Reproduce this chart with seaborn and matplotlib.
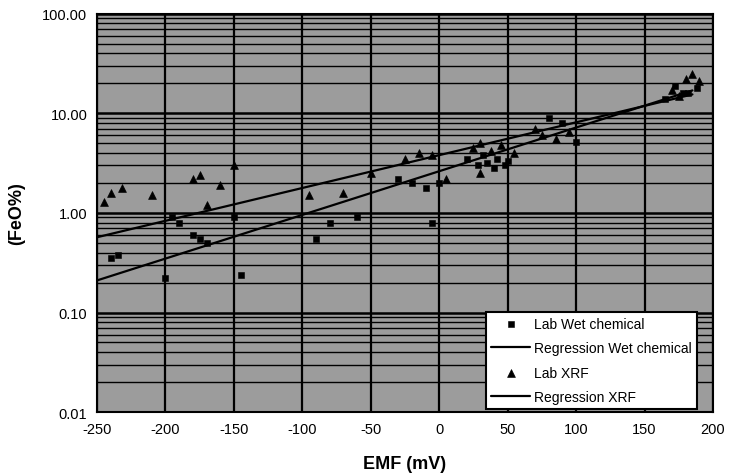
import numpy as np
import pandas as pd
import matplotlib
matplotlib.use("Agg")
import matplotlib.pyplot as plt
from matplotlib.ticker import FixedLocator, LogLocator, NullFormatter
import seaborn as sns

# ---- data ----
wet_emf = [-240, -235, -200, -195, -190, -180, -175, -170, -150, -145,
           -90, -80, -60, -30, -20, -10, -5, 0,
           20, 28, 32, 35, 40, 42, 48, 50,
           80, 90, 100, 165, 172, 178, 182, 188]
wet_feo = [0.35, 0.38, 0.22, 0.90, 0.80, 0.60, 0.55, 0.50, 0.90, 0.24,
           0.55, 0.80, 0.90, 2.2, 2.0, 1.8, 0.80, 2.0,
           3.5, 3.0, 3.8, 3.2, 2.8, 3.5, 3.0, 3.3,
           9.0, 8.0, 5.2, 14.0, 19.0, 16.0, 16.0, 18.0]

xrf_emf = [-245, -240, -232, -210, -180, -175, -170, -160, -150,
           -95, -70, -50, -25, -15, -5, 5,
           25, 30, 38, 45, 55, 30,
           70, 75, 85, 95, 170, 175, 180, 185, 190]
xrf_feo = [1.3, 1.6, 1.8, 1.5, 2.2, 2.4, 1.2, 1.9, 3.0,
           1.5, 1.6, 2.5, 3.5, 4.0, 3.8, 2.2,
           4.5, 5.0, 4.2, 4.8, 4.0, 2.5,
           7.0, 6.0, 5.5, 6.5, 17.0, 15.0, 22.0, 25.0, 21.0]

reg_emf = [-250, 185]
reg_wet = [0.57, 15.5]
reg_xrf = [0.21, 17.0]

x_ticks = [-250, -200, -150, -100, -50, 0, 50, 100, 150, 200]
y_ticks = [0.01, 0.1, 1, 10, 100]
y_tick_labels = ["0.01", "0.10", "1.00", "10.00", "100.00"]

# ---- style ----
sns.set_style("white")
plt.rcParams["font.family"] = ["Liberation Sans", "DejaVu Sans"]
plt.rcParams["text.color"] = "black"
plt.rcParams["axes.labelcolor"] = "black"
plt.rcParams["xtick.color"] = "black"
plt.rcParams["ytick.color"] = "black"

fig = plt.figure(figsize=(7.35, 4.77), dpi=100)
ax = fig.add_axes([0.132, 0.134, 0.838, 0.835])
ax.set_facecolor("#9c9c9c")

wet_df = pd.DataFrame({"EMF": wet_emf, "FeO": wet_feo})
xrf_df = pd.DataFrame({"EMF": xrf_emf, "FeO": xrf_feo})
reg_df = pd.DataFrame({"EMF": reg_emf, "wet": reg_wet, "xrf": reg_xrf})

ax.set_yscale("log")
ax.set_xlim(-250, 200)
ax.set_ylim(0.01, 100)

# grid
ax.yaxis.set_minor_locator(LogLocator(base=10, subs=np.arange(2, 10)))
ax.yaxis.set_minor_formatter(NullFormatter())
ax.grid(True, which="minor", axis="y", color="black", linewidth=1.0)
ax.grid(True, which="major", axis="y", color="black", linewidth=1.8)
ax.grid(True, which="major", axis="x", color="black", linewidth=1.6)
ax.set_axisbelow(True)

sns.scatterplot(data=wet_df, x="EMF", y="FeO", marker="s", s=24, color="black",
                edgecolor="black", ax=ax, label="Lab Wet chemical", zorder=3)
sns.lineplot(data=reg_df, x="EMF", y="wet", color="black", linewidth=1.6,
             ax=ax, label="Regression Wet chemical", zorder=3)
sns.scatterplot(data=xrf_df, x="EMF", y="FeO", marker="^", s=32, color="black",
                edgecolor="black", ax=ax, label="Lab XRF", zorder=3)
sns.lineplot(data=reg_df, x="EMF", y="xrf", color="black", linewidth=1.6,
             ax=ax, label="Regression XRF", zorder=3)

ax.set_xticks(x_ticks)
ax.set_xticklabels([str(t) for t in x_ticks], fontsize=10.5)
ax.yaxis.set_major_locator(FixedLocator(y_ticks))
ax.set_yticklabels(y_tick_labels, fontsize=10.5)
ax.tick_params(axis="both", which="both", length=0, pad=7)

ax.set_xlabel("EMF (mV)", fontsize=13, fontweight="bold", labelpad=14)
ax.set_ylabel("(FeO%)", fontsize=13, fontweight="bold", labelpad=12)

for sp in ax.spines.values():
    sp.set_color("black")
    sp.set_linewidth(1.5)

leg = ax.legend(loc="lower right", bbox_to_anchor=(0.974, 0.008), borderaxespad=0,
                fontsize=10, frameon=True, fancybox=False, framealpha=1,
                edgecolor="black", borderpad=0.35, labelspacing=0.75,
                handlelength=2.8, handletextpad=0.3)
leg.get_frame().set_linewidth(1.5)

fig.savefig("out.png", dpi=100)
